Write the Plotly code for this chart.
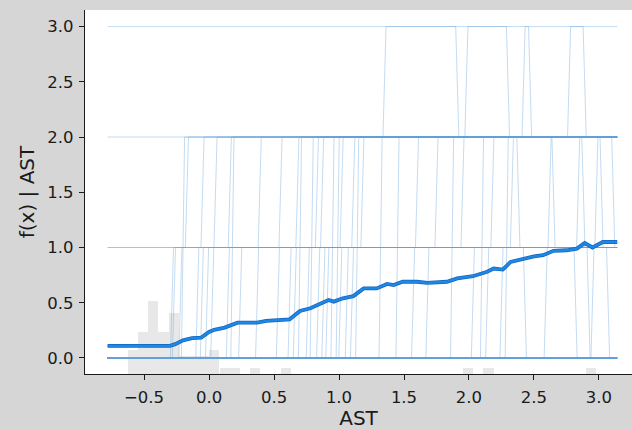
import plotly.graph_objects as go

# ---------------- data ----------------
# background histogram of AST (bin centres, counts; 50 bins over the data range)
hist_x = [-0.585, -0.507, -0.429, -0.350, -0.272, -0.194, -0.115, -0.037, 0.041,
          0.120, 0.198, 0.355, 0.590, 1.990, 2.150, 2.940]
hist_count = [4, 7, 12, 7, 10, 3, 3, 3, 4, 1, 1, 1, 1, 1, 1, 1]
hist_bin_width = 0.0784
n_samples = 60

# partial dependence (mean) curve
mean_x = [-0.78, -0.30, -0.26, -0.20, -0.13, -0.06, 0.00, 0.04, 0.12, 0.22,
          0.37, 0.44, 0.62, 0.70, 0.78, 0.85, 0.92, 0.96, 1.03, 1.11,
          1.19, 1.29, 1.37, 1.42, 1.49, 1.60, 1.68, 1.83, 1.91, 2.03,
          2.14, 2.19, 2.26, 2.32, 2.42, 2.50, 2.57, 2.65, 2.75, 2.83,
          2.89, 2.95, 3.03, 3.14]
mean_y = [0.11, 0.11, 0.125, 0.16, 0.18, 0.185, 0.235, 0.255, 0.275, 0.32,
          0.32, 0.335, 0.35, 0.425, 0.45, 0.49, 0.525, 0.51, 0.54, 0.56,
          0.63, 0.63, 0.67, 0.66, 0.69, 0.69, 0.68, 0.69, 0.72, 0.74,
          0.78, 0.81, 0.80, 0.87, 0.90, 0.92, 0.93, 0.97, 0.975, 0.99,
          1.04, 1.00, 1.05, 1.05]

# ICE curves: start level + step changes (AST value where it jumps, new level)
ice_x_min, ice_x_max = -0.78, 3.14
ice_start = [3, 2, 1, 1,
             0, 0, 0, 0, 0, 0, 0, 0, 0, 0, 0, 0,
             0, 0, 0, 0, 0, 0, 0, 0, 0, 0, 0, 0, 0, 0, 0, 0, 0, 0,
             0, 0, 0, 0, 0, 0, 0, 0, 0]
ice_jump_x = [
    [], [1.35, 1.91], [-0.17], [1.75],
    [-0.20], [0.18], [0.70, 2.77, 2.89], [0.79], [0.95, 2.42, 2.47], [0.99],
    [1.14], [1.32], [1.45], [1.87, 1.98, 2.30], [2.10], [2.29],
    [-0.285, -0.05, 2.38, 2.43], [-0.27, 0.05, 2.65, 2.82], [-0.22, 0.16, 2.88, 2.92],
    [-0.09, 0.39, 3.02, 3.07], [-0.055, 0.55, 3.11], [-0.015, 0.68], [0.025, 0.83],
    [0.145, 0.87], [0.24, 1.02], [0.37, 1.11], [0.53, 1.18], [0.62, 1.60],
    [0.66, 1.95], [0.76, 2.18], [0.84, 2.33], [0.88, 2.62], [0.91, 2.84], [1.01, 2.98],
    [1.06], [1.10], [1.57], [1.68], [2.03], [2.14], [2.25], [2.59], [2.95],
]
ice_jump_to = [
    [], [3, 2], [2], [2],
    [2], [2], [2, 3, 2], [2], [2, 3, 2], [2],
    [2], [2], [2], [2, 3, 2], [2], [2],
    [1, 2, 1, 0], [1, 2, 1, 0], [1, 2, 1, 0],
    [1, 2, 1, 0], [1, 2, 1], [1, 2], [1, 2],
    [1, 2], [1, 2], [1, 2], [1, 2], [1, 2],
    [1, 2], [1, 2], [1, 2], [1, 2], [1, 2], [1, 2],
    [1], [1], [1], [1], [1], [1], [1], [1], [1],
]
n_flat_zero = 24

y_tick_vals = [0.0, 0.5, 1.0, 1.5, 2.0, 2.5, 3.0]
y_tick_text = ["0.0", "0.5", "1.0", "1.5", "2.0", "2.5", "3.0"]
x_tick_vals = [-0.5, 0.0, 0.5, 1.0, 1.5, 2.0, 2.5, 3.0]
x_tick_text = ["\u22120.5", "0.0", "0.5", "1.0", "1.5", "2.0", "2.5", "3.0"]

# ---------------- figure ----------------
FONT = "DejaVu Sans"
ICE_COLOR = "rgba(100,160,218,0.38)"
half_step = 0.012

fig = go.Figure()

# histogram (behind, on hidden count axis)
fig.add_trace(go.Bar(x=hist_x, y=hist_count, width=hist_bin_width,
                     marker=dict(color="rgba(0,0,0,0.09)", line=dict(width=0)),
                     yaxis="y", hoverinfo="skip", showlegend=False))


def ice_path(start, xs, tos):
    px, py, lvl = [ice_x_min], [start], start
    for xj, to in zip(xs, tos):
        px += [xj - half_step, xj + half_step]
        py += [lvl, to]
        lvl = to
    px.append(ice_x_max)
    py.append(lvl)
    return px, py


curves = list(zip(ice_start, ice_jump_x, ice_jump_to)) + [(0, [], [])] * n_flat_zero
for s, xs, tos in curves:
    px, py = ice_path(s, xs, tos)
    fig.add_trace(go.Scatter(x=px, y=py, mode="lines", yaxis="y2",
                             line=dict(color=ICE_COLOR, width=1),
                             hoverinfo="skip", showlegend=False))

# mean partial dependence line
fig.add_trace(go.Scatter(x=mean_x, y=mean_y, mode="lines", yaxis="y2",
                         line=dict(color="#1565C0", width=3.8),
                         hoverinfo="skip", showlegend=False))
fig.add_trace(go.Scatter(x=mean_x, y=mean_y, mode="lines", yaxis="y2",
                         line=dict(color="#1E88E5", width=2.3),
                         hoverinfo="skip", showlegend=False))

axis_common = dict(showline=True, linecolor="#1a1a1a", linewidth=1.3,
                   ticks="outside", ticklen=5, tickwidth=1.2, tickcolor="#1a1a1a",
                   showgrid=False, zeroline=False,
                   tickfont=dict(family=FONT, size=16.5, color="#1a1a1a"))

fig.update_layout(
    width=632, height=430,
    margin=dict(l=85, r=0, t=10, b=56),
    paper_bgcolor="#d6d6d6",
    plot_bgcolor="#ffffff",
    bargap=0,
    xaxis=dict(range=[-0.954, 3.254], tickvals=x_tick_vals, ticktext=x_tick_text,
               ticklabelstandoff=3,
               title=dict(text="AST", font=dict(family=FONT, size=20, color="#1a1a1a"),
                          standoff=3),
               **axis_common),
    yaxis=dict(range=[0, n_samples], visible=False, fixedrange=True),
    yaxis2=dict(range=[-0.145, 3.15], overlaying="y", side="left", anchor="x",
                tickvals=y_tick_vals, ticktext=y_tick_text,
                ticklabelstandoff=2,
                title=dict(text="f(x) | AST", font=dict(family=FONT, size=20, color="#1a1a1a"),
                           standoff=7),
                **axis_common),
)

fig.write_html("out.html", config={"displayModeBar": False},
               post_script="document.body.style.margin='0';document.body.style.padding='0';")
